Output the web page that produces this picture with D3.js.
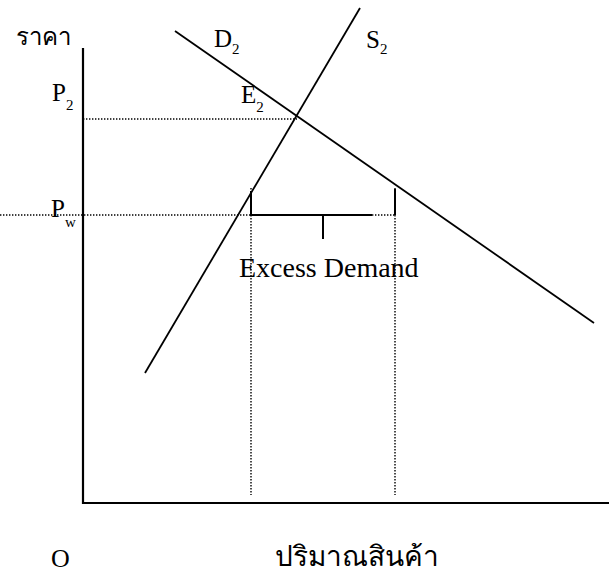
<!DOCTYPE html>
<html>
<head>
<meta charset="utf-8">
<script src="https://cdn.jsdelivr.net/npm/d3@7"></script>
<style>
  html, body { margin: 0; padding: 0; background: #fff; }
  svg { display: block; }
  text { font-family: "Liberation Serif", "Times New Roman", serif; fill: #000; }
</style>
</head>
<body>
<svg id="chart" width="609" height="576"></svg>
<script>
// ---- data (quantity / price units) ----
const supplyLine = [[62, 130], [277, 495]];      // S2
const demandLine = [[92, 472], [511, 180]];      // D2
const priceLevels = { P2: 384, Pw: 288 };
const eqQuantity = 214;                          // E2
const qSupplyAtPw = 168;
const qDemandAtPw = 312;
const bracketTop = 312;
const bracketSolidEnd = 289;
const midTickQ = 240;
const midTickBottom = 264;
const dropTop = 315;
const dropBottom = 8;
const axisMax = { q: 526, p: 455 };
const labels = {
  yTitle: "ราคา", xTitle: "ปริมาณสินค้า", origin: "O",
  excess: "Excess Demand"
};

const svg = d3.select("#chart");
const x = d3.scaleLinear().domain([0, 526]).range([83, 609]);
const y = d3.scaleLinear().domain([0, 455]).range([503, 48]);
const line = d3.line().x(d => x(d[0])).y(d => y(d[1]));

// axes
svg.append("path").attr("d", line([[0, axisMax.p], [0, 0], [axisMax.q, 0]]))
  .attr("fill", "none").attr("stroke", "#000").attr("stroke-width", 2.2);

// dotted guides
const dotted = (pts) => svg.append("path").attr("d", line(pts))
  .attr("fill", "none").attr("stroke", "#000").attr("stroke-width", 1.4)
  .attr("stroke-dasharray", "1.4,1.6");
dotted([[0, priceLevels.P2], [eqQuantity, priceLevels.P2]]);
dotted([[x.invert(0), priceLevels.Pw], [qDemandAtPw, priceLevels.Pw]]);
dotted([[qSupplyAtPw, dropTop], [qSupplyAtPw, dropBottom]]);
dotted([[qDemandAtPw, dropTop], [qDemandAtPw, dropBottom]]);

// curves
const solid = (pts, w) => svg.append("path").attr("d", line(pts))
  .attr("fill", "none").attr("stroke", "#000").attr("stroke-width", w);
solid(supplyLine, 1.8);
solid(demandLine, 1.8);

// excess demand bracket
solid([[qSupplyAtPw, bracketTop], [qSupplyAtPw, priceLevels.Pw], [bracketSolidEnd, priceLevels.Pw]], 2);
solid([[qDemandAtPw, bracketTop + 2], [qDemandAtPw, priceLevels.Pw]], 2);
solid([[midTickQ, priceLevels.Pw], [midTickQ, midTickBottom]], 2);

// labels with subscripts
function subLabel(px, py, main, sub, size, subSize, dy) {
  const t = svg.append("text").attr("x", px).attr("y", py).attr("font-size", size);
  t.append("tspan").text(main);
  t.append("tspan").attr("font-size", subSize).attr("dy", dy).text(sub);
}
subLabel(214, 47, "D", "2", 25, 15, 7);
subLabel(366, 48, "S", "2", 25, 15, 6);
subLabel(52, 101, "P", "2", 25, 15, 9);
subLabel(241, 103, "E", "2", 25, 15, 9);
subLabel(51, 217, "P", "w", 25, 15, 10);

svg.append("text").attr("x", 239).attr("y", 277).attr("font-size", 28).text(labels.excess);
svg.append("text").attr("x", 51).attr("y", 567).attr("font-size", 26).text(labels.origin);
svg.append("text").attr("x", 16).attr("y", 45).attr("font-size", 24).text(labels.yTitle);
svg.append("text").attr("x", 275).attr("y", 566).attr("font-size", 28).text(labels.xTitle);
</script>
</body>
</html>
